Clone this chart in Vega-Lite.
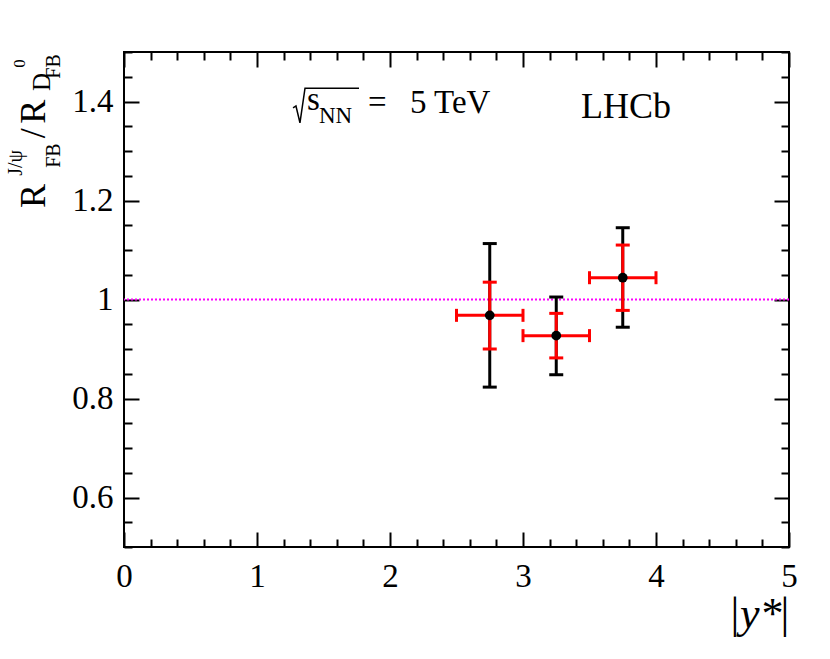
{
  "$schema": "https://vega.github.io/schema/vega-lite/v6.json",
  "width": 665,
  "height": 495,
  "autosize": {"type": "none"},
  "padding": {"left": 124, "top": 52, "right": 41, "bottom": 112},
  "background": "white",
  "config": {
    "view": {"stroke": "black", "strokeWidth": 2},
    "axis": {
      "domain": false,
      "grid": false,
      "labelFont": "Liberation Serif",
      "labelFontSize": 33,
      "labelColor": "black",
      "tickColor": "black",
      "tickWidth": 2,
      "labelOverlap": false,
      "labelFlush": false,
      "title": null
    },
    "text": {"font": "Liberation Serif", "color": "black"}
  },
  "datasets": {
    "points": [
      {"x": 2.75, "xlo": 2.5, "xhi": 3.0, "y": 0.968, "blo": 0.823, "bhi": 1.113, "rlo": 0.900, "rhi": 1.035},
      {"x": 3.25, "xlo": 3.0, "xhi": 3.5, "y": 0.927, "blo": 0.848, "bhi": 1.005, "rlo": 0.882, "rhi": 0.972},
      {"x": 3.75, "xlo": 3.5, "xhi": 4.0, "y": 1.044, "blo": 0.944, "bhi": 1.145, "rlo": 0.978, "rhi": 1.110}
    ]
  },
  "resolve": {"axis": {"x": "independent", "y": "independent"}},
  "layer": [
    {
      "data": {"values": [{"ref": 1}]},
      "mark": {"type": "rule", "color": "#ff00ff", "strokeWidth": 2, "strokeDash": [2, 2]},
      "encoding": {"y": {"field": "ref", "type": "quantitative", "axis": null}}
    },
    {
      "data": {"name": "points"},
      "mark": {"type": "rule", "color": "black", "strokeWidth": 3},
      "encoding": {
        "x": {
          "field": "x", "type": "quantitative",
          "scale": {"domain": [0, 5], "nice": false, "zero": false},
          "axis": {
            "orient": "bottom",
            "values": [0, 0.2, 0.4, 0.6, 0.8, 1, 1.2, 1.4, 1.6, 1.8, 2, 2.2, 2.4, 2.6, 2.8, 3, 3.2, 3.4, 3.6, 3.8, 4, 4.2, 4.4, 4.6, 4.8, 5],
            "format": "~g",
            "labelExpr": "abs(datum.value - round(datum.value)) < 1e-6 ? datum.label : ''",
            "tickSize": {"condition": {"test": "abs(datum.value - round(datum.value)) < 1e-6", "value": -15}, "value": -8},
            "labelPadding": 28
          }
        },
        "y": {
          "field": "blo", "type": "quantitative",
          "scale": {"domain": [0.5, 1.5], "nice": false, "zero": false},
          "axis": {
            "orient": "left",
            "values": [0.5, 0.55, 0.6, 0.65, 0.7, 0.75, 0.8, 0.85, 0.9, 0.95, 1, 1.05, 1.1, 1.15, 1.2, 1.25, 1.3, 1.35, 1.4, 1.45, 1.5],
            "format": "~g",
            "labelExpr": "abs(datum.value * 5 - round(datum.value * 5)) < 1e-6 ? datum.label : ''",
            "tickSize": {"condition": {"test": "abs(datum.value * 5 - round(datum.value * 5)) < 1e-6", "value": -15}, "value": -8},
            "labelPadding": 26
          }
        },
        "y2": {"field": "bhi"}
      }
    },
    {
      "data": {"name": "points"},
      "transform": [{"fold": ["blo", "bhi"], "as": ["k", "v"]}],
      "mark": {"type": "tick", "orient": "horizontal", "color": "black", "size": 14, "thickness": 3, "opacity": 1},
      "encoding": {
        "x": {"field": "x", "type": "quantitative", "axis": null},
        "y": {"field": "v", "type": "quantitative", "axis": null}
      }
    },
    {
      "data": {"name": "points"},
      "mark": {"type": "rule", "color": "#ff0000", "strokeWidth": 3},
      "encoding": {
        "x": {"field": "x", "type": "quantitative", "axis": null},
        "y": {"field": "rlo", "type": "quantitative", "axis": null},
        "y2": {"field": "rhi"}
      }
    },
    {
      "data": {"name": "points"},
      "transform": [{"fold": ["rlo", "rhi"], "as": ["k", "v"]}],
      "mark": {"type": "tick", "orient": "horizontal", "color": "#ff0000", "size": 14, "thickness": 3, "opacity": 1},
      "encoding": {
        "x": {"field": "x", "type": "quantitative", "axis": null},
        "y": {"field": "v", "type": "quantitative", "axis": null}
      }
    },
    {
      "data": {"name": "points"},
      "mark": {"type": "rule", "color": "#ff0000", "strokeWidth": 3},
      "encoding": {
        "x": {
          "field": "xlo", "type": "quantitative",
          "scale": {"domain": [0, 5], "nice": false, "zero": false},
          "axis": {
            "orient": "top",
            "values": [0, 0.2, 0.4, 0.6, 0.8, 1, 1.2, 1.4, 1.6, 1.8, 2, 2.2, 2.4, 2.6, 2.8, 3, 3.2, 3.4, 3.6, 3.8, 4, 4.2, 4.4, 4.6, 4.8, 5],
            "labels": false,
            "tickSize": {"condition": {"test": "abs(datum.value - round(datum.value)) < 1e-6", "value": -15}, "value": -8}
          }
        },
        "x2": {"field": "xhi"},
        "y": {
          "field": "y", "type": "quantitative",
          "scale": {"domain": [0.5, 1.5], "nice": false, "zero": false},
          "axis": {
            "orient": "right",
            "values": [0.5, 0.55, 0.6, 0.65, 0.7, 0.75, 0.8, 0.85, 0.9, 0.95, 1, 1.05, 1.1, 1.15, 1.2, 1.25, 1.3, 1.35, 1.4, 1.45, 1.5],
            "labels": false,
            "tickSize": {"condition": {"test": "abs(datum.value * 5 - round(datum.value * 5)) < 1e-6", "value": -15}, "value": -8}
          }
        }
      }
    },
    {
      "data": {"name": "points"},
      "transform": [{"fold": ["xlo", "xhi"], "as": ["k", "v"]}],
      "mark": {"type": "tick", "orient": "vertical", "color": "#ff0000", "size": 13, "thickness": 3, "opacity": 1},
      "encoding": {
        "x": {"field": "v", "type": "quantitative", "axis": null},
        "y": {"field": "y", "type": "quantitative", "axis": null}
      }
    },
    {
      "data": {"name": "points"},
      "mark": {"type": "circle", "color": "black", "size": 95, "opacity": 1},
      "encoding": {
        "x": {"field": "x", "type": "quantitative", "axis": null},
        "y": {"field": "y", "type": "quantitative", "axis": null}
      }
    },
    {
      "data": {"values": [
        {"x": 1.271, "y": 1.387, "o": 0},
        {"x": 1.293, "y": 1.391, "o": 1},
        {"x": 1.323, "y": 1.357, "o": 2},
        {"x": 1.361, "y": 1.427, "o": 3},
        {"x": 1.767, "y": 1.427, "o": 4}
      ]},
      "mark": {"type": "line", "color": "black", "strokeWidth": 1.5},
      "encoding": {
        "x": {"field": "x", "type": "quantitative", "axis": null},
        "y": {"field": "y", "type": "quantitative", "axis": null},
        "order": {"field": "o"}
      }
    },
    {
      "data": {"values": [
        {"x": 1.376, "y": 1.383, "t": "s"},
        {"x": 1.835, "y": 1.377, "t": "="},
        {"x": 2.150, "y": 1.377, "t": "5 TeV"}
      ]},
      "mark": {"type": "text", "fontSize": 33, "align": "left", "baseline": "alphabetic"},
      "encoding": {
        "x": {"field": "x", "type": "quantitative", "axis": null},
        "y": {"field": "y", "type": "quantitative", "axis": null},
        "text": {"field": "t"}
      }
    },
    {
      "data": {"values": [{"x": 1.466, "y": 1.357, "t": "NN"}]},
      "mark": {"type": "text", "fontSize": 23, "align": "left", "baseline": "alphabetic"},
      "encoding": {
        "x": {"field": "x", "type": "quantitative", "axis": null},
        "y": {"field": "y", "type": "quantitative", "axis": null},
        "text": {"field": "t"}
      }
    },
    {
      "data": {"values": [{"x": 3.436, "y": 1.367, "t": "LHCb"}]},
      "mark": {"type": "text", "fontSize": 36, "align": "left", "baseline": "alphabetic"},
      "encoding": {
        "x": {"field": "x", "type": "quantitative", "axis": null},
        "y": {"field": "y", "type": "quantitative", "axis": null},
        "text": {"field": "t"}
      }
    },
    {
      "data": {"values": [
        {"x": -0.594, "y": 1.185, "t": "R"},
        {"x": -0.594, "y": 1.326, "t": "/"},
        {"x": -0.594, "y": 1.355, "t": "R"}
      ]},
      "mark": {"type": "text", "fontSize": 36, "angle": 270, "align": "left", "baseline": "alphabetic"},
      "encoding": {
        "x": {"field": "x", "type": "quantitative", "axis": null},
        "y": {"field": "y", "type": "quantitative", "axis": null},
        "text": {"field": "t"}
      }
    },
    {
      "data": {"values": [
        {"x": -0.481, "y": 1.266, "t": "FB"},
        {"x": -0.767, "y": 1.250, "t": "J/ψ"},
        {"x": -0.481, "y": 1.446, "t": "FB"}
      ]},
      "mark": {"type": "text", "fontSize": 20, "angle": 270, "align": "left", "baseline": "alphabetic"},
      "encoding": {
        "x": {"field": "x", "type": "quantitative", "axis": null},
        "y": {"field": "y", "type": "quantitative", "axis": null},
        "text": {"field": "t"}
      }
    },
    {
      "data": {"values": [{"x": -0.556, "y": 1.421, "t": "D"}]},
      "mark": {"type": "text", "fontSize": 25, "angle": 270, "align": "left", "baseline": "alphabetic"},
      "encoding": {
        "x": {"field": "x", "type": "quantitative", "axis": null},
        "y": {"field": "y", "type": "quantitative", "axis": null},
        "text": {"field": "t"}
      }
    },
    {
      "data": {"values": [{"x": -0.744, "y": 1.468, "t": "0"}]},
      "mark": {"type": "text", "fontSize": 17, "angle": 270, "align": "left", "baseline": "alphabetic"},
      "encoding": {
        "x": {"field": "x", "type": "quantitative", "axis": null},
        "y": {"field": "y", "type": "quantitative", "axis": null},
        "text": {"field": "t"}
      }
    },
    {
      "data": {"values": [
        {"x": 4.594, "y": 0.336, "t": "|"},
        {"x": 4.970, "y": 0.336, "t": "|"}
      ]},
      "mark": {"type": "text", "fontSize": 44, "align": "center", "baseline": "alphabetic"},
      "encoding": {
        "x": {"field": "x", "type": "quantitative", "axis": null},
        "y": {"field": "y", "type": "quantitative", "axis": null},
        "text": {"field": "t"}
      }
    },
    {
      "data": {"values": [{"x": 4.632, "y": 0.336, "t": "y*"}]},
      "mark": {"type": "text", "fontSize": 44, "fontStyle": "italic", "align": "left", "baseline": "alphabetic"},
      "encoding": {
        "x": {"field": "x", "type": "quantitative", "axis": null},
        "y": {"field": "y", "type": "quantitative", "axis": null},
        "text": {"field": "t"}
      }
    }
  ]
}
